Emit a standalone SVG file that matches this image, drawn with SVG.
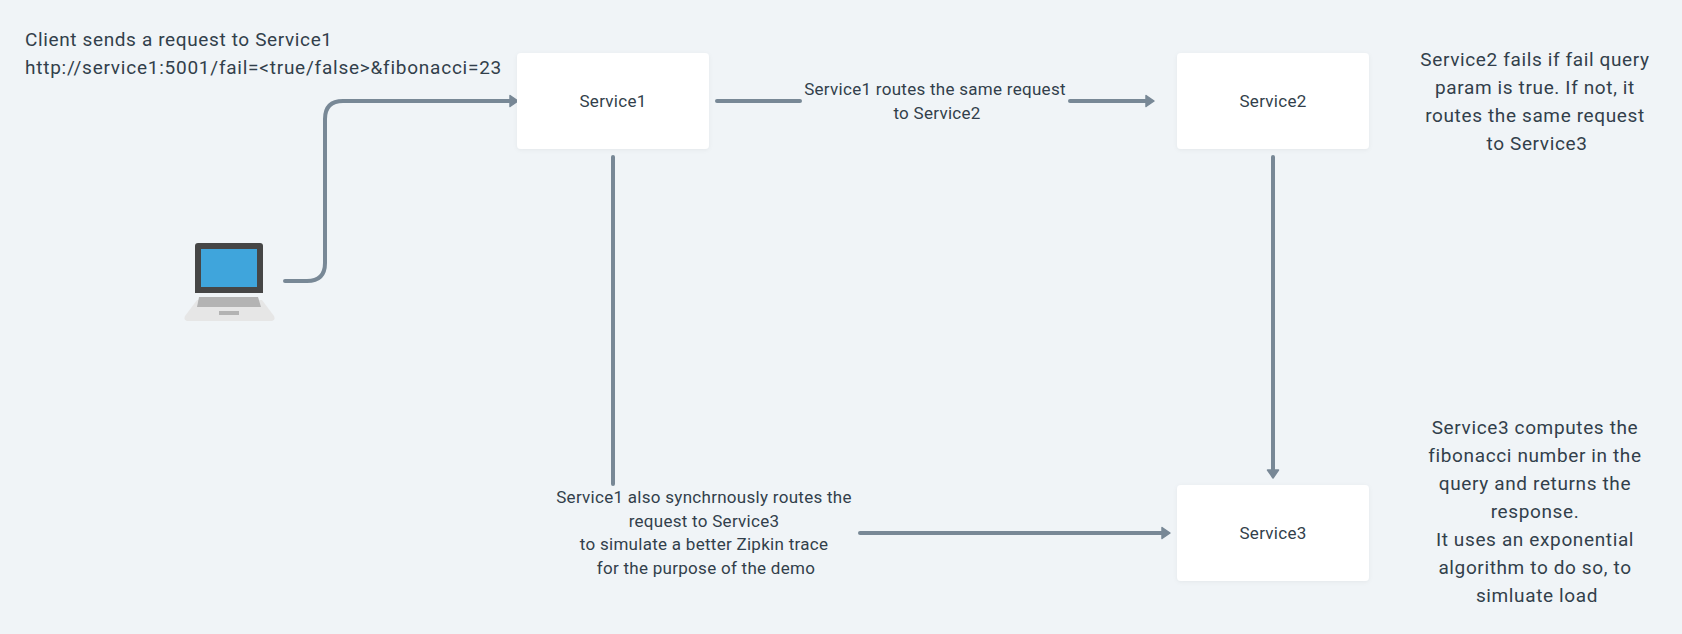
<svg xmlns="http://www.w3.org/2000/svg" width="1682" height="634" viewBox="0 0 1682 634">
<defs>
<marker id="arr" markerUnits="userSpaceOnUse" markerWidth="14" markerHeight="16" refX="5" refY="8" orient="auto"><path d="M1 2.5L9 8L1 13.500Z" fill="#788896" stroke="#788896" stroke-width="1.500" stroke-linejoin="round"/></marker>
<filter id="sh" x="-10%" y="-10%" width="120%" height="125%"><feDropShadow dx="0" dy="1" stdDeviation="2" flood-color="#000" flood-opacity="0.05"/></filter>
</defs>
<style>
text{font-family:Roboto,"Liberation Sans",sans-serif;fill:#323f4b;text-anchor:middle}
.n{font-size:17px;letter-spacing:.27px}
.l{font-size:17px;letter-spacing:.28px}
.b{font-size:19px;letter-spacing:.63px}
.box{fill:#fff;filter:url(#sh)}
.c{fill:none;stroke:#788896;stroke-width:4;stroke-linecap:round}
</style>
<rect width="1682" height="634" fill="#f0f4f7"/>
<g id="connectors">
<path class="c" d="M285 281H307Q325 281 325 263V119Q325 101 343 101H514" marker-end="url(#arr)"/>
<path class="c" d="M717 101H800"/>
<path class="c" d="M1070 101H1150" marker-end="url(#arr)"/>
<path class="c" d="M1273 157V474" marker-end="url(#arr)"/>
<path class="c" d="M613 157V484"/>
<path class="c" d="M860 533H1166" marker-end="url(#arr)"/>
</g>
<g id="client">
<path d="M197 300H262L274 316Q276 321 270 321H189Q183 321 185 316Z" fill="#e6e6e6"/>
<path d="M195 293V246Q195 243 198 243H260Q263 243 263 246V293Z" fill="#464646"/>
<rect x="201" y="249" width="56" height="38" fill="#3fa5dc"/>
<path d="M199 297H258L261 307H197Z" fill="#b3b3b3"/>
<rect x="219" y="311" width="20" height="4" fill="#b3b3b3"/>
</g>
<g id="service1"><rect class="box" x="517" y="53" width="192" height="96" rx="4"/><text class="n" x="613" y="107">Service1</text></g>
<g id="service2"><rect class="box" x="1177" y="53" width="192" height="96" rx="4"/><text class="n" x="1273" y="107">Service2</text></g>
<g id="service3"><rect class="box" x="1177" y="485" width="192" height="96" rx="4"/><text class="n" x="1273" y="539">Service3</text></g>
<g id="labels">
<text class="b" style="text-anchor:start" x="25" y="46">Client sends a request to Service1</text>
<text class="b" style="text-anchor:start;letter-spacing:.76px" x="25" y="74">http://service1:5001/fail=&lt;true/false&gt;&amp;fibonacci=23</text>
<text class="l" x="935" y="95">Service1 routes the same request</text>
<text class="l" x="937" y="119">to Service2</text>
<text class="l" x="704" y="503">Service1 also synchrnously routes the</text>
<text class="l" x="704" y="527">request to Service3</text>
<text class="l" x="704" y="550">to simulate a better Zipkin trace</text>
<text class="l" x="706" y="574">for the purpose of the demo</text>
<text class="b" x="1535" y="66">Service2 fails if fail query</text>
<text class="b" x="1535" y="94">param is true. If not, it</text>
<text class="b" x="1535" y="122">routes the same request</text>
<text class="b" x="1537" y="150">to Service3</text>
<text class="b" x="1535" y="434">Service3 computes the</text>
<text class="b" x="1535" y="462">fibonacci number in the</text>
<text class="b" x="1535" y="490">query and returns the</text>
<text class="b" x="1535" y="518">response.</text>
<text class="b" x="1535" y="546">It uses an exponential</text>
<text class="b" x="1535" y="574">algorithm to do so, to</text>
<text class="b" x="1537" y="602">simluate load</text>
</g>
</svg>
